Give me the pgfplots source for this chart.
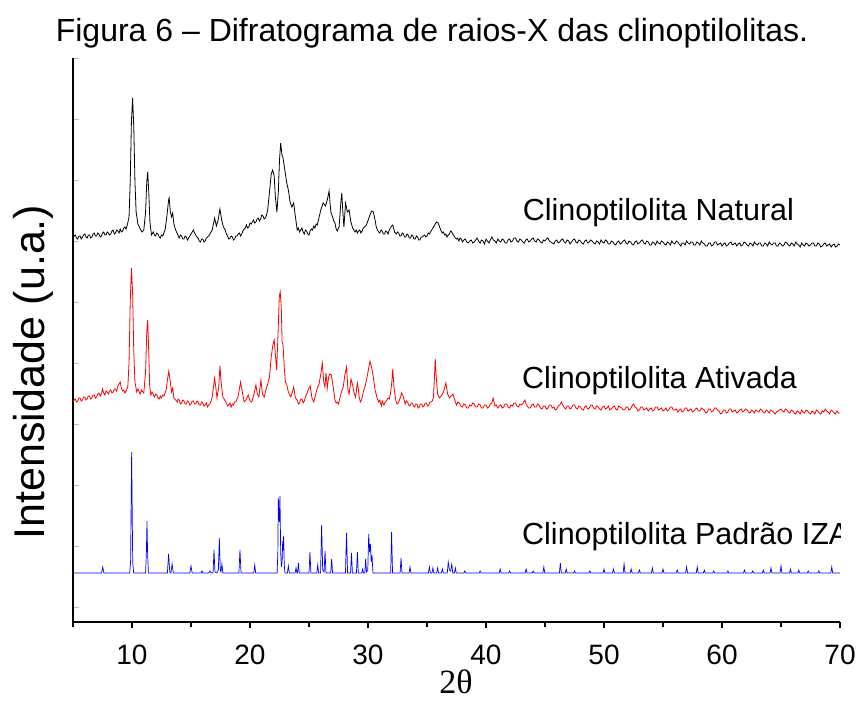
\documentclass[border=0pt]{standalone}
\usepackage{fontspec}
\setmainfont{Liberation Sans}
\newfontfamily\seriffont{Liberation Serif}
\usepackage{pgfplots}
\pgfplotsset{compat=1.18}
\begin{document}
\begin{tikzpicture}
\path[use as bounding box] (0pt,0pt) rectangle (864pt,-720pt);
\begin{axis}[
  at={(73pt,-622pt)}, anchor=south west,
  scale only axis, width=767pt, height=564pt,
  xmin=5, xmax=70, ymin=0, ymax=564,
  axis x line*=bottom, axis y line*=left,
  xtick pos=bottom, ytick pos=left,
  axis line style={line width=1.6pt, black},
  xtick={10,20,...,70}, minor xtick={5,15,...,65},
  ytick={15,76,137,198,259,320,381,442,503,564}, yticklabels={},
  xtick align=outside, ytick align=inside,
  major tick length=6pt, minor tick length=5pt,
  xtick style={line width=1.3pt, black},
  ytick style={line width=0.6pt, black!25},
  /pgf/number format/assume math mode=true,
  xticklabel style={font=\fontsize{28}{28}\selectfont, anchor=center, yshift=-27pt},
]
% Natural (black)
\addplot[black, line width=0.8pt] coordinates {
(5.0,384)(5.1,386)(5.2,387)(5.3,384)(5.4,383)(5.5,386)(5.6,386)(5.7,383)(5.8,385)(5.9,387)(6.0,388)(6.1,385)(6.2,384)(6.3,387)(6.4,387)(6.5,384)(6.6,385)(6.7,388)(6.8,389)(6.9,386)(7.0,386)(7.1,389)(7.2,388)(7.3,385)(7.4,386)(7.5,389)(7.6,390)(7.7,387)(7.8,387)(7.9,390)(8.0,389)(8.1,387)(8.2,388)(8.3,391)(8.4,392)(8.5,388)(8.6,389)(8.7,392)(8.8,391)(8.9,389)(9.0,393)(9.1,390)(9.2,391)(9.3,394)(9.4,395)(9.5,393)(9.6,397)
(9.75,405)(9.85,440)(9.95,500)(10.05,524)(10.15,495)(10.25,440)(10.35,410)(10.5,398)(10.7,393)(10.85,390)(11.0,392)(11.15,410)(11.25,440)(11.33,450)(11.42,430)(11.52,400)(11.65,387)(11.8,390)
(11.9,387)(12.0,386)(12.1,389)(12.2,388)(12.3,385)(12.4,384)(12.5,387)(12.6,386)(12.7,389)(12.8,392)(12.95,405)(13.1,422)(13.15,424)(13.25,410)(13.35,405)(13.45,409)(13.55,398)(13.7,392)(13.85,388)(13.95,385)(14.0,384)(14.1,387)(14.2,386)(14.3,383)(14.4,383)(14.5,386)(14.6,385)(14.7,382)(14.8,384)(14.9,386)
(15.0,388)(15.1,390)(15.2,392)(15.3,389)(15.4,387)(15.5,385)(15.6,384)(15.7,381)(15.8,380)(15.9,383)(16.0,383)(16.1,380)(16.2,381)(16.3,384)(16.4,385)(16.5,386)(16.6,388)(16.7,390)(16.8,392)(17.0,404)(17.15,396)(17.3,402)(17.45,413)(17.6,402)(17.75,395)(17.9,392)(18.0,388)(18.1,386)(18.2,383)(18.3,384)
(18.4,386)(18.5,385)(18.6,382)(18.7,383)(18.8,386)(18.9,386)(19.0,388)(19.1,389)(19.2,386)(19.3,388)(19.4,391)(19.5,393)(19.6,394)(19.7,397)(19.8,394)(19.9,395)(20.0,399)(20.1,398)(20.2,400)(20.3,402)(20.4,399)(20.5,400)(20.6,403)(20.7,404)(20.8,401)(20.9,403)(21.0,407)(21.1,406)(21.2,403)(21.3,404)(21.4,407)(21.5,412)(21.65,430)(21.8,448)(21.92,452)
(22.05,446)(22.15,425)(22.28,410)(22.4,430)(22.5,462)(22.6,479)(22.7,468)(22.8,464)(22.95,452)(23.1,440)(23.25,432)(23.4,420)(23.55,415)(23.7,419)(23.85,405)(24.0,392)(24.1,394)(24.2,390)(24.3,392)(24.4,394)(24.5,390)
(24.6,388)(24.7,392)(24.8,391)(24.9,388)(25.0,387)(25.1,391)(25.2,393)(25.3,392)(25.4,396)(25.5,394)(25.6,398)(25.7,397)(25.8,402)(26.0,412)(26.2,419)(26.4,416)(26.55,422)(26.7,431)(26.85,410)(27.0,405)(27.1,401)(27.2,399)(27.3,393)(27.4,391)(27.55,395)(27.7,420)
(27.78,429)(27.87,410)(27.96,395)(28.1,419)(28.25,410)(28.4,412)(28.55,400)(28.7,394)(28.8,392)(28.9,390)(29.0,392)(29.1,389)(29.2,391)(29.3,392)(29.4,389)(29.5,391)(29.6,394)(29.7,395)(29.8,396)(29.9,398)(30.1,405)(30.3,411)(30.45,410)(30.6,402)
(30.7,395)(30.8,392)(30.9,390)(31.0,389)(31.1,392)(31.2,391)(31.3,388)(31.4,388)(31.5,391)(31.6,390)(31.7,388)(31.8,392)(31.9,394)(32.0,396)(32.1,397)(32.25,390)(32.4,388)(32.5,390)(32.6,389)(32.7,386)(32.8,386)(32.9,389)(33.0,388)(33.1,385)(33.2,385)(33.3,388)(33.4,387)(33.5,384)(33.6,384)(33.7,387)(33.8,386)(33.9,383)(34.0,383)(34.1,386)(34.2,385)
(34.3,382)(34.4,382)(34.5,385)(34.6,385)(34.7,386)(34.8,387)(34.9,385)(35.0,386)(35.1,389)(35.2,388)(35.3,390)(35.4,392)(35.5,394)(35.6,396)(35.7,398)(35.8,400)(35.95,399)(36.1,394)(36.2,391)(36.3,389)(36.4,390)(36.5,387)(36.6,388)(36.7,385)(36.8,387)(36.9,388)(37.0,391)(37.1,390)(37.2,388)(37.3,386)(37.4,384)(37.5,383)(37.6,384)(37.7,381)(37.8,384)(37.9,383)
(38.0,380)(38.12,382)(38.25,383)(38.37,380)(38.5,379)(38.62,381)(38.75,382)(38.87,379)(39.0,380)(39.12,382)(39.25,384)(39.37,381)(39.5,379)(39.62,382)(39.75,381)(39.87,378)(40.0,383)(40.12,381)(40.25,379)(40.37,382)(40.5,385)(40.62,382)(40.75,381)(40.87,379)(41.0,383)(41.12,381)(41.25,380)(41.37,383)(41.5,382)(41.62,379)(41.75,379)(41.87,382)(42.0,383)(42.12,380)(42.25,381)
(42.37,384)(42.5,384)(42.62,381)(42.75,380)(42.87,383)(43.0,382)(43.12,380)(43.25,379)(43.37,382)(43.5,383)(43.62,380)(43.75,381)(43.87,383)(44.0,384)(44.12,381)(44.25,380)(44.37,383)(44.5,382)(44.62,380)(44.75,379)(44.87,382)(45.0,381)(45.12,383)(45.25,384)(45.37,381)(45.5,380)(45.62,379)(45.75,378)(45.87,381)(46.0,382)(46.12,379)(46.25,380)(46.37,382)(46.5,383)(46.62,380)(46.75,379)
(46.87,382)(47.0,381)(47.12,378)(47.25,380)(47.37,382)(47.5,383)(47.62,380)(47.75,379)(47.87,382)(48.0,381)(48.12,379)(48.25,378)(48.37,381)(48.5,382)(48.62,379)(48.75,380)(48.87,382)(49.0,381)(49.12,379)(49.25,378)(49.37,381)(49.5,380)(49.62,378)(49.75,382)(49.87,380)(50.0,379)(50.12,382)(50.25,381)(50.37,378)(50.5,378)(50.62,381)(50.75,380)(50.87,378)(51.0,377)(51.12,380)(51.25,381)
(51.37,378)(51.5,379)(51.62,381)(51.75,382)(51.87,379)(52.0,378)(52.12,381)(52.25,380)(52.37,378)(52.5,377)(52.62,380)(52.75,381)(52.87,378)(53.0,379)(53.12,381)(53.25,382)(53.37,379)(53.5,378)(53.62,381)(53.75,380)(53.87,377)(54.0,377)(54.12,380)(54.25,379)(54.37,377)(54.5,381)(54.62,379)(54.75,378)(54.87,381)(55.0,380)(55.12,378)(55.25,377)(55.37,380)(55.5,379)(55.62,377)(55.75,381)
(55.87,379)(56.0,378)(56.12,381)(56.25,380)(56.37,378)(56.5,376)(56.62,379)(56.75,379)(56.87,377)(57.0,381)(57.12,379)(57.25,378)(57.37,380)(57.5,380)(57.62,377)(57.75,377)(57.87,380)(58.0,379)(58.12,377)(58.25,381)(58.37,379)(58.5,378)(58.62,376)(58.75,376)(58.87,379)(59.0,379)(59.12,376)(59.25,377)(59.37,380)(59.5,380)(59.62,377)(59.75,378)(59.87,379)(60.0,376)(60.12,378)(60.25,379)
(60.37,376)(60.5,377)(60.62,379)(60.75,380)(60.87,377)(61.0,378)(61.12,379)(61.25,376)(61.37,378)(61.5,379)(61.62,376)(61.75,377)(61.87,380)(62.0,379)(62.12,377)(62.25,376)(62.37,379)(62.5,378)(62.62,376)(62.75,380)(62.87,378)(63.0,377)(63.12,379)(63.25,379)(63.37,376)(63.5,376)(63.62,379)(63.75,378)(63.87,376)(64.0,380)(64.12,378)(64.25,377)(64.37,379)(64.5,379)(64.62,376)(64.75,376)
(64.87,379)(65.0,378)(65.12,376)(65.25,377)(65.37,380)(65.5,379)(65.62,377)(65.75,376)(65.87,379)(66.0,378)(66.12,376)(66.25,380)(66.37,378)(66.5,377)(66.62,375)(66.75,379)(66.87,377)(67.0,376)(67.12,379)(67.25,378)(67.37,376)(67.5,377)(67.62,379)(67.75,379)(67.87,376)(68.0,376)(68.12,379)(68.25,378)(68.37,375)(68.5,376)(68.62,378)(68.75,379)(68.87,376)(69.0,377)(69.12,378)(69.25,375)
(69.37,377)(69.5,378)(69.62,375)(69.75,376)(69.87,378)(70.0,377)
};
% Ativada (red)
\addplot[red, line width=0.8pt] coordinates {
(5.0,220)(5.1,222)(5.2,223)(5.3,220)(5.4,221)(5.5,224)(5.6,224)(5.7,221)(5.8,222)(5.9,225)(6.0,225)(6.1,222)(6.2,223)(6.3,226)(6.4,226)(6.5,223)(6.6,224)(6.7,227)(6.8,227)(6.9,224)(7.0,225)(7.1,228)(7.2,229)(7.3,226)(7.4,228)(7.5,233)(7.6,229)(7.7,227)(7.8,231)(7.9,230)(8.0,228)(8.1,231)(8.2,232)(8.3,229)(8.4,230)(8.5,233)(8.6,233)(8.7,231)(8.8,236)(9.0,240)
(9.1,234)(9.2,231)(9.3,232)(9.4,229)(9.5,231)(9.65,236)(9.75,260)(9.85,320)(9.95,354)(10.05,330)(10.15,270)(10.25,240)(10.4,230)(10.5,233)(10.55,232)(10.65,229)(10.7,228)(10.8,232)(10.85,231)(11.0,229)(11.15,250)(11.25,290)(11.33,302)
(11.42,270)(11.5,235)(11.6,227)(11.7,230)(11.75,229)(11.85,226)(11.9,225)(12.0,228)(12.1,227)(12.2,224)(12.3,223)(12.4,226)(12.5,224)(12.6,227)(12.7,226)(12.8,229)(12.9,232)(13.0,242)(13.12,251)(13.25,240)(13.35,230)(13.45,234)(13.55,224)(13.7,222)(13.85,220)
(13.9,223)(14.0,222)(14.1,218)(14.2,219)(14.3,222)(14.4,221)(14.5,218)(14.6,218)(14.7,221)(14.8,220)(14.9,217)(15.0,218)(15.1,221)(15.2,221)(15.3,218)(15.4,218)(15.5,221)(15.6,220)(15.7,217)(15.8,217)(15.9,220)(16.0,219)(16.1,216)(16.2,217)(16.3,219)(16.4,215)(16.5,217)(16.6,218)(16.7,221)(16.8,225)(17.0,244)(17.1,235)(17.2,224)(17.35,235)
(17.45,256)(17.55,240)(17.7,225)(17.85,222)(17.95,220)(18.0,219)(18.1,216)(18.2,217)(18.3,219)(18.4,215)(18.5,218)(18.6,217)(18.7,220)(18.8,220)(19.0,226)(19.2,240)(19.35,230)(19.5,220)(19.65,222)(19.85,227)(20.0,221)(20.15,220)(20.3,226)
(20.5,237)(20.62,228)(20.75,225)(20.93,242)(21.05,228)(21.2,225)(21.35,232)(21.5,238)(21.65,245)(21.8,265)(21.95,278)(22.05,282)(22.15,268)(22.26,252)(22.38,290)(22.48,325)(22.56,330)
(22.65,315)(22.72,280)(22.8,277)(22.9,255)(23.0,240)(23.1,238)(23.25,230)(23.45,225)(23.6,230)(23.7,235)(23.85,224)(24.0,222)(24.1,218)(24.2,219)(24.3,223)(24.4,223)(24.5,219)(24.6,221)(24.7,225)(24.8,228)(25.0,234)(25.1,236)
(25.25,224)(25.4,220)(25.55,227)(25.7,234)(25.85,238)(26.0,248)(26.13,259)(26.25,240)(26.35,235)(26.44,249)(26.55,234)(26.65,244)(26.75,248)(26.9,247)(27.05,235)(27.2,222)(27.3,219)(27.4,220)(27.5,218)(27.6,223)
(27.75,230)(27.9,235)(28.05,248)(28.18,255)(28.3,232)(28.4,228)(28.56,243)(28.7,237)(28.8,230)(28.95,225)(29.05,235)(29.12,239)(29.25,225)(29.35,220)(29.45,222)(29.6,230)(29.8,238)(30.0,250)(30.17,261)
(30.3,255)(30.45,245)(30.6,232)(30.75,225)(30.9,220)(31.0,222)(31.05,219)(31.15,216)(31.2,221)(31.35,217)(31.45,220)(31.5,220)(31.6,222)(31.7,224)(31.8,223)(31.9,228)(32.02,240)(32.1,253)(32.2,235)(32.35,222)(32.45,218)(32.55,219)(32.7,223)(32.85,229)
(33.0,225)(33.15,218)(33.25,221)(33.35,220)(33.45,217)(33.55,216)(33.65,219)(33.75,219)(33.85,216)(33.95,215)(34.05,218)(34.15,218)(34.25,214)(34.35,215)(34.45,218)(34.55,218)(34.65,215)(34.75,216)(34.85,219)(34.95,219)(35.05,216)(35.15,217)(35.25,220)(35.35,220)(35.45,221)(35.55,225)(35.65,250)(35.7,263)(35.78,245)
(35.9,228)(36.05,224)(36.2,226)(36.4,230)(36.6,239)(36.75,228)(36.9,224)(37.05,226)(37.2,228)(37.35,222)(37.5,217)(37.62,220)(37.75,219)(37.87,216)(38.0,215)(38.12,218)(38.25,217)(38.37,214)(38.5,214)(38.62,217)(38.75,216)(38.87,219)(39.0,218)(39.12,215)(39.25,215)(39.37,218)
(39.5,217)(39.62,214)(39.75,214)(39.87,217)(40.0,217)(40.12,214)(40.25,215)(40.37,218)(40.5,219)(40.6,224)(40.75,216)(40.87,217)(41.0,214)(41.12,216)(41.25,217)(41.37,214)(41.5,215)(41.62,218)(41.75,218)(41.87,215)(42.0,214)(42.12,217)(42.25,216)(42.37,219)(42.5,219)(42.62,216)(42.75,215)(42.87,218)(43.0,217)(43.15,219)(43.3,222)(43.4,218)(43.5,216)(43.62,214)
(43.75,214)(43.87,217)(44.0,218)(44.12,215)(44.25,215)(44.37,218)(44.5,217)(44.62,214)(44.75,213)(44.87,216)(45.0,216)(45.12,213)(45.25,214)(45.37,217)(45.5,217)(45.62,214)(45.75,215)(45.87,212)(46.0,213)(46.12,216)(46.25,217)(46.4,220)(46.5,217)(46.6,215)(46.75,213)(46.87,216)(47.0,216)(47.12,213)(47.25,214)(47.37,217)(47.5,217)(47.62,214)(47.75,213)(47.87,216)
(48.0,215)(48.12,213)(48.25,212)(48.37,215)(48.5,216)(48.62,213)(48.75,214)(48.87,217)(49.0,217)(49.12,214)(49.25,213)(49.37,216)(49.5,215)(49.62,213)(49.75,212)(49.87,215)(50.0,216)(50.12,213)(50.25,214)(50.37,216)(50.5,212)(50.62,213)(50.75,215)(50.87,216)(51.0,213)(51.12,212)(51.25,216)(51.37,215)(51.5,214)(51.62,212)(51.75,212)(51.87,215)(52.0,215)(52.12,212)(52.25,213)(52.37,216)
(52.5,218)(52.62,215)(52.75,214)(52.87,211)(53.0,212)(53.12,215)(53.25,215)(53.37,212)(53.5,213)(53.62,214)(53.75,211)(53.87,213)(54.0,214)(54.12,211)(54.25,212)(54.37,215)(54.5,215)(54.62,212)(54.75,213)(54.87,214)(55.0,211)(55.12,212)(55.25,214)(55.37,211)(55.5,212)(55.62,215)(55.75,215)(55.87,212)(56.0,212)(56.12,213)(56.25,210)(56.37,212)(56.5,213)(56.62,210)(56.75,211)(56.87,214)
(57.0,214)(57.12,211)(57.25,212)(57.37,213)(57.5,210)(57.62,211)(57.75,213)(57.87,214)(58.0,211)(58.12,211)(58.25,214)(58.37,213)(58.5,212)(58.62,209)(58.75,210)(58.87,213)(59.0,213)(59.12,210)(59.25,211)(59.37,214)(59.5,214)(59.62,212)(59.75,211)(59.87,208)(60.0,209)(60.12,212)(60.25,212)(60.37,209)(60.5,210)(60.62,213)(60.75,213)(60.87,210)(61.0,211)(61.12,212)(61.25,209)(61.37,210)
(61.5,212)(61.62,213)(61.75,210)(61.87,211)(62.0,213)(62.12,212)(62.25,210)(62.37,209)(62.5,212)(62.62,211)(62.75,209)(62.87,212)(63.0,211)(63.12,210)(63.25,213)(63.37,212)(63.5,210)(63.62,209)(63.75,212)(63.87,211)(64.0,209)(64.12,212)(64.25,211)(64.37,210)(64.5,208)(64.62,210)(64.75,211)(64.87,212)(65.0,213)(65.12,211)(65.25,210)(65.37,213)(65.5,212)(65.62,210)(65.75,209)(65.87,212)
(66.0,211)(66.12,209)(66.25,208)(66.37,211)(66.5,210)(66.62,208)(66.75,212)(66.87,210)(67.0,209)(67.12,212)(67.25,211)(67.37,209)(67.5,208)(67.62,211)(67.75,210)(67.87,208)(68.0,212)(68.12,211)(68.25,209)(68.37,208)(68.5,211)(68.62,210)(68.75,213)(68.87,211)(69.0,210)(69.12,208)(69.25,212)(69.37,211)(69.5,209)(69.62,208)(69.75,211)(69.87,209)(70.0,209)
};
% Padrao IZA (blue)
\addplot[blue, line width=0.7pt] coordinates {
(5.0,49)(7.42,49)(7.52,55)(7.62,49)
(9.8,49)(9.88,60)(9.93,120)(9.97,170)(10.01,120)(10.06,60)(10.14,49)
(11.15,49)(11.22,70)(11.27,101)(11.32,70)(11.39,49)
(13.0,49)(13.1,68)(13.2,50)(13.3,49)(13.4,58)(13.5,49)
(14.9,49)(15.0,56)(15.1,49)(15.85,49)(15.93,51)(16.0,49)(16.5,49)(16.6,51)(16.7,49)
(16.87,49)(16.95,72)(17.03,50)(17.2,49)(17.32,52)(17.4,84)(17.48,52)(17.54,50)(17.62,58)(17.7,49)
(19.06,49)(19.15,72)(19.24,49)(20.32,49)(20.4,57)(20.48,49)
(22.3,49)(22.36,70)(22.4,124)(22.47,100)(22.54,126)(22.6,70)(22.66,55)(22.72,60)(22.77,81)(22.81,72)(22.85,86)(22.9,58)(22.96,49)
(23.17,49)(23.25,56)(23.33,49)(23.82,49)(23.9,54)(23.98,49)(24.03,49)(24.1,59)(24.17,49)
(25.0,49)(25.08,70)(25.16,49)(25.66,49)(25.74,57)(25.82,49)(25.98,49)(26.07,97)(26.16,52)(26.28,50)(26.36,71)(26.44,49)
(26.84,49)(26.92,63)(27.0,49)(28.09,49)(28.18,89)(28.27,49)(28.52,49)(28.6,69)(28.68,49)(29.02,49)(29.1,70)(29.18,49)
(29.48,49)(29.55,53)(29.62,49)(29.73,49)(29.8,63)(29.87,50)(29.98,52)(30.06,88)(30.13,70)(30.2,78)(30.27,60)(30.34,67)(30.42,49)
(31.92,49)(32.0,90)(32.08,49)(32.72,49)(32.8,64)(32.88,49)(33.48,49)(33.56,55)(33.64,49)
(35.12,49)(35.2,55)(35.28,49)(35.42,49)(35.5,54)(35.58,49)(35.82,49)(35.9,54)(35.98,49)(36.22,49)(36.3,53)(36.38,49)
(36.72,49)(36.8,60)(36.9,52)(37.0,51)(37.1,58)(37.18,49)(37.32,49)(37.4,54)(37.48,49)(38.12,49)(38.2,51)(38.28,49)
(39.42,49)(39.5,51)(39.58,49)(41.12,49)(41.2,53)(41.28,49)(41.92,49)(42.0,51)(42.08,49)(43.32,49)(43.4,53)(43.48,49)
(43.92,49)(44.0,51)(44.08,49)(44.82,49)(44.9,55)(44.98,49)(46.22,49)(46.3,59)(46.38,49)(46.72,49)(46.8,53)(46.88,49)
(47.42,49)(47.5,51)(47.58,49)(48.72,49)(48.8,51)(48.88,49)(49.92,49)(50.0,53)(50.08,49)(50.72,49)(50.8,53)(50.88,49)
(51.62,49)(51.7,58)(51.78,49)(52.22,49)(52.3,53)(52.38,49)(52.92,49)(53.0,52)(53.08,49)(54.02,49)(54.1,54)(54.18,49)
(54.92,49)(55.0,53)(55.08,49)(56.12,49)(56.2,52)(56.28,49)(56.92,49)(57.0,55)(57.08,49)(57.82,49)(57.9,55)(57.98,49)
(58.42,49)(58.5,52)(58.58,49)(59.22,49)(59.3,51)(59.38,49)(60.42,49)(60.5,51)(60.58,49)(61.82,49)(61.9,52)(61.98,49)
(62.52,49)(62.6,51)(62.68,49)(63.42,49)(63.5,52)(63.58,49)(64.07,49)(64.15,54)(64.23,49)(64.92,49)(65.0,56)(65.08,49)
(65.72,49)(65.8,53)(65.88,49)(66.42,49)(66.5,52)(66.58,49)(67.22,49)(67.3,51)(67.38,49)(68.12,49)(68.2,51)(68.28,49)
(69.22,49)(69.3,55)(69.38,49)(70.0,49)
};
\node[anchor=west, inner sep=0pt, font=\fontsize{30.5}{30.5}\selectfont] at (axis cs:43.1,409) {Clinoptilolita Natural};
\node[anchor=west, inner sep=0pt, font=\fontsize{30.5}{30.5}\selectfont] at (axis cs:43.05,241) {Clinoptilolita Ativada};
\node[anchor=west, inner sep=0pt, font=\fontsize{30.5}{30.5}\selectfont] at (axis cs:43.05,85) {Clinoptilolita Padrão IZA};
\end{axis}
\node[font=\fontsize{32}{32}\selectfont] at (432pt,-33pt) {Figura 6 – Difratograma de raios-X das clinoptilolitas.};
\node[rotate=90, font=\fontsize{43}{43}\selectfont] at (33pt,-372pt) {Intensidade (u.a.)};
\node[font=\seriffont\fontsize{34}{34}\selectfont] at (456pt,-682pt) {2θ};
\end{tikzpicture}
\end{document}
